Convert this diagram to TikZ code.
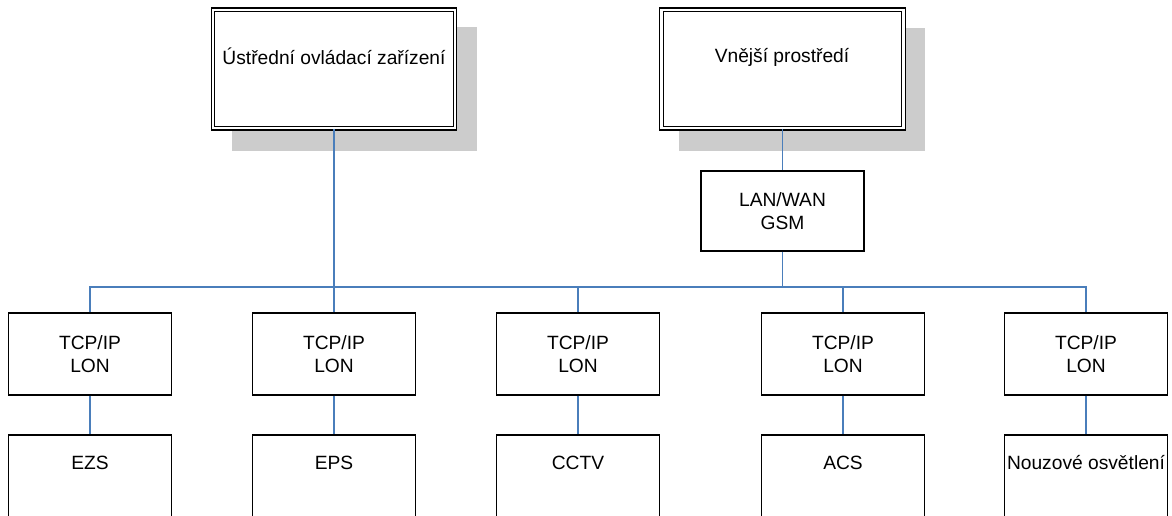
\documentclass[tikz,border=0pt]{standalone}
\usepackage{fontspec}
\setmainfont{Liberation Sans}
\definecolor{linkblue}{HTML}{4A7EBB}
\definecolor{shadowgray}{HTML}{CCCCCC}
\begin{document}
\begin{tikzpicture}[x=1pt,y=-1pt,
  txt/.style={inner sep=0pt, align=center, font=\fontsize{19.2}{22.5}\selectfont},
  box/.style={draw, line width=1.3pt, fill=white, minimum width=163pt, minimum height=82pt, inner sep=0pt, align=center, font=\fontsize{19.2}{22.5}\selectfont},
  bigbox/.style={draw, double, double distance=2.4pt, line width=1.2pt, fill=white, minimum width=242pt, minimum height=118.5pt, inner sep=0pt},
  lowbox/.style={draw, line width=1.3pt, fill=white, minimum width=163pt, minimum height=110pt, inner sep=0pt},
  shade/.style={fill=shadowgray},
  conn/.style={draw=linkblue, line width=1.5pt}]
\useasboundingbox (0,0) rectangle (1172,515);
\clip (0,0) rectangle (1172,515);
% shadows
\fill[shade] (232,27) rectangle (477,151);
\fill[shade] (679,28) rectangle (925,151);
% top boxes
\node[bigbox] (u) at (334,69) {};
\node[txt] (ut) at (334,56) {Ústřední ovládací zařízení};
\node[bigbox] (v) at (782.5,69) {};
\node[txt] (vt) at (782,57) {Vnější prostředí};
% LAN box
\node[box, minimum height=80pt] (lan) at (782.5,211) {LAN/WAN\\GSM};
% TCP boxes
\node[box] (t1) at (90,354) {TCP/IP\\LON};
\node[box] (t2) at (334,354) {TCP/IP\\LON};
\node[box] (t3) at (578,354) {TCP/IP\\LON};
\node[box] (t4) at (843,354) {TCP/IP\\LON};
\node[box] (t5) at (1086,354) {TCP/IP\\LON};
% bottom boxes
\node[lowbox] (e1) at (90,490) {};
\node[lowbox] (e2) at (334,490) {};
\node[lowbox] (e3) at (578,490) {};
\node[lowbox] (e4) at (843,490) {};
\node[lowbox] (e5) at (1086,490) {};
\node[txt] (e1t) at (90,463) {EZS};
\node[txt] (e2t) at (334,463) {EPS};
\node[txt] (e3t) at (578,463) {CCTV};
\node[txt] (e4t) at (843,463) {ACS};
\node[txt] (e5t) at (1086,463) {Nouzové osvětlení};
% bus
\coordinate (bus) at (580,287);
\draw[conn] (t1.north) |- (bus) -| (t5.north);
\draw[conn] (t2.north) -- (t2.north |- bus);
\draw[conn] (t3.north) -- (t3.north |- bus);
\draw[conn] (t4.north) -- (t4.north |- bus);
\draw[conn] (u.south) -- (u.south |- bus);
\draw[conn] (v.south) -- (lan.north);
\draw[conn] (lan.south) -- (lan.south |- bus);
% vertical links
\draw[conn] (t1.south) -- (e1.north);
\draw[conn] (t2.south) -- (e2.north);
\draw[conn] (t3.south) -- (e3.north);
\draw[conn] (t4.south) -- (e4.north);
\draw[conn] (t5.south) -- (e5.north);
\end{tikzpicture}
\end{document}
